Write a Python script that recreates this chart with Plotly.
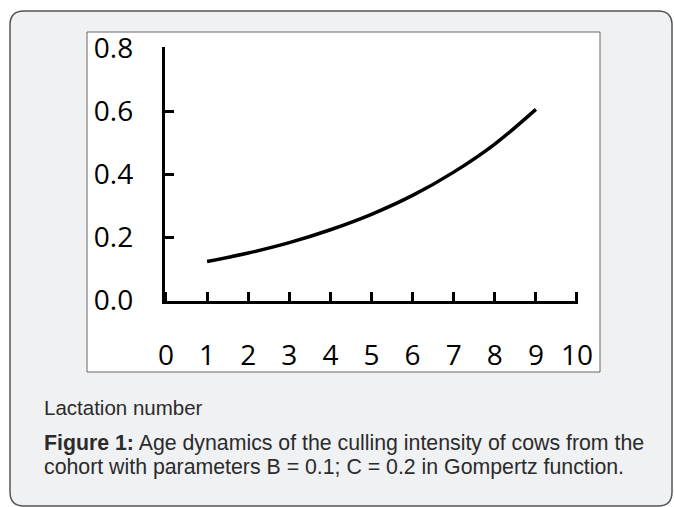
import plotly.graph_objects as go

lactation = [1, 2, 3, 4, 5, 6, 7, 8, 9]
culling = [0.122, 0.149, 0.182, 0.223, 0.272, 0.332, 0.406, 0.495, 0.605]
x_ticks = [0, 1, 2, 3, 4, 5, 6, 7, 8, 9, 10]
y_ticks = [0.0, 0.2, 0.4, 0.6, 0.8]
y_tick_labels = ["0.0", "0.2", "0.4", "0.6", "0.8"]

W, H = 674, 507


def px(x):
    return x / W


def py(y):
    return 1 - y / H


# pixel anchors of the axis ends (value -> pixel) and slightly padded ranges
X0_PX, X10_PX = 166, 577
Y0_PX, Y08_PX = 300, 48
xr = [-0.03, 10.03]
yr = [-0.003, 0.803]
xs = (X10_PX - X0_PX) / 10.0
ys = (Y0_PX - Y08_PX) / 0.8
x_dom = [px(X0_PX + xr[0] * xs), px(X0_PX + xr[1] * xs)]
y_dom = [py(Y0_PX - yr[0] * ys), py(Y0_PX - yr[1] * ys)]

fig = go.Figure()
fig.add_trace(go.Scatter(
    x=lactation, y=culling, mode="lines",
    line=dict(color="black", width=3.5, shape="spline"),
    hoverinfo="skip", showlegend=False,
))

# rounded outer panel
x0, y0, x1, y1, r = 10, 11, 672, 506, 14
path = (
    f"M {px(x0 + r)} {py(y0)} L {px(x1 - r)} {py(y0)} "
    f"Q {px(x1)} {py(y0)} {px(x1)} {py(y0 + r)} "
    f"L {px(x1)} {py(y1 - r)} Q {px(x1)} {py(y1)} {px(x1 - r)} {py(y1)} "
    f"L {px(x0 + r)} {py(y1)} Q {px(x0)} {py(y1)} {px(x0)} {py(y1 - r)} "
    f"L {px(x0)} {py(y0 + r)} Q {px(x0)} {py(y0)} {px(x0 + r)} {py(y0)} Z"
)
shapes = [
    dict(type="path", xref="paper", yref="paper", path=path,
         line=dict(color="#555555", width=1.5), fillcolor="#f0f1f3", layer="below"),
    dict(type="rect", xref="paper", yref="paper",
         x0=px(87), x1=px(600), y0=py(372), y1=py(32),
         line=dict(color="#666666", width=1), fillcolor="white", layer="below"),
]

cap_font = dict(family="Liberation Sans, Arial", size=21.3, color="#2b2b2b")
annotations = [
    dict(text="Lactation number", x=px(42), y=py(407), xref="paper", yref="paper",
         xanchor="left", yanchor="middle", showarrow=False,
         font=dict(family="Liberation Sans, Arial", size=20.5, color="#2b2b2b")),
    dict(text="<b>Figure 1:</b> Age dynamics of the culling intensity of cows from the",
         x=px(42), y=py(443), xref="paper", yref="paper",
         xanchor="left", yanchor="middle", showarrow=False, font=cap_font),
    dict(text="cohort with parameters B = 0.1; C = 0.2 in Gompertz function.",
         x=px(42), y=py(467), xref="paper", yref="paper",
         xanchor="left", yanchor="middle", showarrow=False, font=cap_font),
]

tick_font = dict(family="Open Sans", size=28, color="black")

fig.update_layout(
    width=W, height=H,
    margin=dict(l=0, r=0, t=0, b=0),
    paper_bgcolor="white",
    plot_bgcolor="rgba(0,0,0,0)",
    shapes=shapes,
    annotations=annotations,
    xaxis=dict(
        domain=x_dom, range=xr,
        tickmode="array", tickvals=x_ticks, ticktext=[str(v) for v in x_ticks],
        ticks="inside", ticklen=9, tickwidth=3, tickcolor="black",
        showline=True, linecolor="black", linewidth=3,
        showgrid=False, zeroline=False, automargin=False,
        tickfont=tick_font, ticklabelstandoff=27, fixedrange=True,
    ),
    yaxis=dict(
        domain=y_dom, range=yr,
        tickmode="array", tickvals=y_ticks, ticktext=y_tick_labels,
        ticks="inside", ticklen=9, tickwidth=3, tickcolor="black",
        showline=True, linecolor="black", linewidth=3,
        showgrid=False, zeroline=False, automargin=False,
        tickfont=tick_font, ticklabelstandoff=23, fixedrange=True,
    ),
)

fig.write_html("out.html", config={"displayModeBar": False},
               post_script="document.body.style.margin='0';")
